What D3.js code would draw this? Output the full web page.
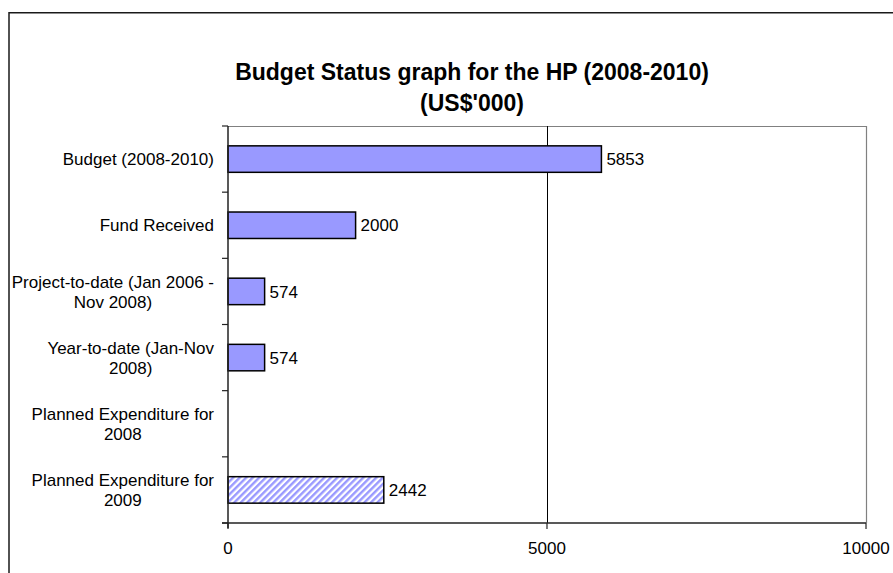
<!DOCTYPE html>
<html><head><meta charset="utf-8">
<script src="https://cdn.jsdelivr.net/npm/d3@7"></script>
<style>body{margin:0;background:#fff;overflow:hidden} svg{display:block} text{font-family:"Liberation Sans",Arial,sans-serif;fill:#000}</style>
</head><body><svg id="c" width="893" height="573"></svg>
<script>
const titleLines = ["Budget Status graph for the HP (2008-2010)", "(US$'000)"];
const categories = ["Budget (2008-2010)", "Fund Received", "Project-to-date (Jan 2006 - Nov 2008)", "Year-to-date (Jan-Nov 2008)", "Planned Expenditure for 2008", "Planned Expenditure for 2009"];
const labelLines = [["Budget (2008-2010)"], ["Fund Received "], ["Project-to-date (Jan 2006 -", "Nov 2008)"], ["Year-to-date (Jan-Nov", "2008)"], ["Planned Expenditure for", "2008"], ["Planned Expenditure for", "2009"]];
const values = [5853, 2000, 574, 574, null, 2442];
const hatched = [false, false, false, false, false, true];
const xTicks = [0, 5000, 10000];

const svg = d3.select("#c");
const W = 893, H = 573;
const plot = {left: 228, right: 866, top: 126, bottom: 523};

const defs = svg.append("defs");
const pat = defs.append("pattern").attr("id", "hatch").attr("patternUnits", "userSpaceOnUse")
  .attr("width", 4.6).attr("height", 4.6).attr("patternTransform", "rotate(45)");
pat.append("rect").attr("width", 4.6).attr("height", 4.6).attr("fill", "#ffffff");
pat.append("rect").attr("width", 2.4).attr("height", 4.6).attr("fill", "#9999ff");

svg.append("rect").attr("width", W).attr("height", H).attr("fill", "#fff");
// chart area border
svg.append("rect").attr("x", 9).attr("y", 12.75).attr("width", 920).attr("height", 620)
  .attr("fill", "none").attr("stroke", "#1a1a1a").attr("stroke-width", 1.5);

const x = d3.scaleLinear().domain([0, 10000]).range([plot.left, plot.right]);
const y = d3.scaleBand().domain(categories).range([plot.top, plot.bottom]).paddingInner(0.6).paddingOuter(0.3);

// title
const title = svg.append("text").attr("text-anchor", "middle").style("font-weight", "bold").style("font-size", "23px");
titleLines.forEach((t, i) => title.append("tspan").attr("x", 472).attr("y", 80 + i * 31).text(t));

// plot area border (top/right gray)
svg.append("path").attr("d", `M${plot.left},${plot.top + 0.5}H${plot.right + 0.5}V${plot.bottom}`)
  .attr("fill", "none").attr("stroke", "#808080").attr("stroke-width", 1.2);

// gridlines
svg.append("g").selectAll("line").data(xTicks.filter(d => d > 0 && d < 10000)).join("line")
  .attr("x1", d => Math.round(x(d)) + 0.5).attr("x2", d => Math.round(x(d)) + 0.5)
  .attr("y1", plot.top).attr("y2", plot.bottom).attr("stroke", "#000").attr("stroke-width", 1);

// bars
const barData = categories.map((c, i) => ({c, v: values[i], h: hatched[i]})).filter(d => d.v != null && d.v > 0);
svg.append("g").selectAll("rect").data(barData).join("rect")
  .attr("x", x(0)).attr("y", d => y(d.c)).attr("width", d => x(d.v) - x(0)).attr("height", y.bandwidth())
  .attr("fill", d => d.h ? "url(#hatch)" : "#9999ff").attr("stroke", "#000").attr("stroke-width", 1.5);

// value labels
svg.append("g").selectAll("text").data(barData).join("text")
  .attr("x", d => x(d.v) + 5).attr("y", d => y(d.c) + y.bandwidth() / 2).attr("dy", "0.36em")
  .style("font-size", "17px").text(d => d.v);

// y axis
const bounds = d3.range(categories.length + 1).map(i => plot.top + i * (plot.bottom - plot.top) / categories.length);
const ya = svg.append("g");
ya.append("line").attr("x1", plot.left).attr("x2", plot.left).attr("y1", plot.top).attr("y2", plot.bottom + 5)
  .attr("stroke", "#222").attr("stroke-width", 1.5);
ya.selectAll("line.t").data(bounds).join("line").attr("class", "t")
  .attr("x1", plot.left - 6).attr("x2", plot.left).attr("y1", d => d).attr("y2", d => d)
  .attr("stroke", "#222").attr("stroke-width", 1.2);

// category labels
const lh = 20;
categories.forEach((c, i) => {
  const lines = labelLines[i];
  const cy = y(c) + y.bandwidth() / 2;
  const g = svg.append("text").style("font-size", "17px").attr("text-anchor", "middle");
  const tmp = svg.append("text").style("font-size", "17px");
  let maxW = 0;
  lines.forEach(l => { tmp.text(l); maxW = Math.max(maxW, tmp.node().getComputedTextLength()); });
  tmp.remove();
  const right = 214;
  const cx = right - maxW / 2;
  lines.forEach((l, j) => {
    g.append("tspan").attr("x", cx).attr("y", cy + (j - (lines.length - 1) / 2) * lh).attr("dy", "0.36em").text(l);
  });
});

// x axis
const xa = svg.append("g");
xa.append("line").attr("x1", plot.left - 6).attr("x2", plot.right).attr("y1", plot.bottom).attr("y2", plot.bottom)
  .attr("stroke", "#222").attr("stroke-width", 1.5);
xa.selectAll("line.t").data(xTicks).join("line").attr("class", "t")
  .attr("x1", d => x(d)).attr("x2", d => x(d)).attr("y1", plot.bottom).attr("y2", plot.bottom + 6)
  .attr("stroke", "#222").attr("stroke-width", 1.2);
xa.selectAll("text").data(xTicks).join("text")
  .attr("x", d => x(d)).attr("y", 554).attr("text-anchor", "middle").style("font-size", "17px")
  .text(d => d);
</script></body></html>
